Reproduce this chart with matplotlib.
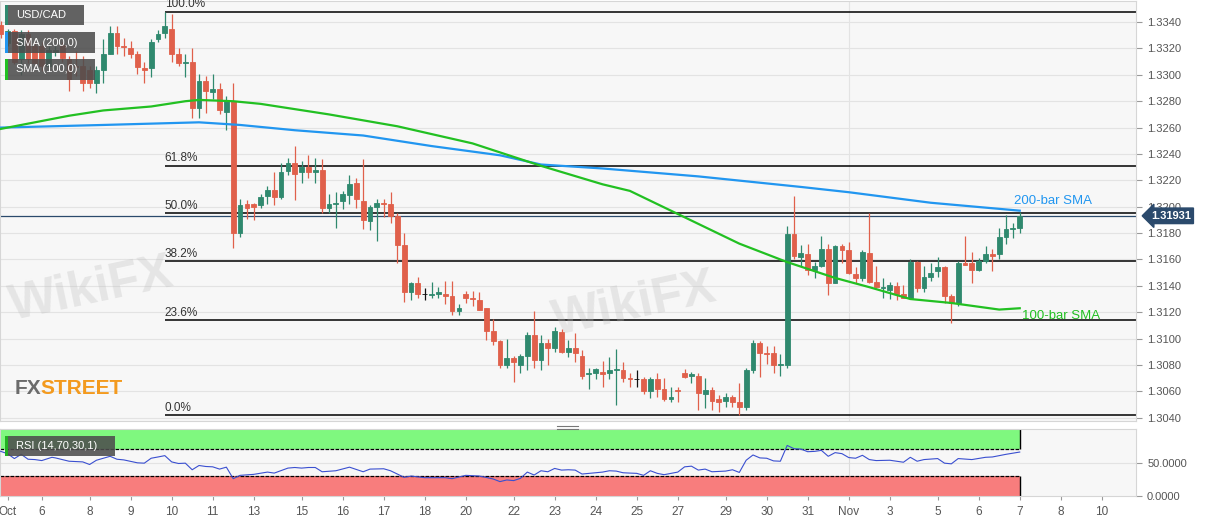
import matplotlib
matplotlib.use('Agg')
import matplotlib.pyplot as plt
from matplotlib.patches import Rectangle
from matplotlib.lines import Line2D
import numpy as np

plt.rcParams['font.family'] = ['Liberation Sans', 'DejaVu Sans']

# USD/CAD 4H candles, Oct 4 - Nov 7
opens = [1.3338, 1.3324, 1.3333, 1.3312, 1.3331, 1.3322, 1.3322, 1.3307, 1.3317, 1.3323,
         1.3312, 1.3307, 1.3307, 1.3304, 1.3294, 1.3304, 1.3316, 1.3332, 1.3322, 1.3320,
         1.3316, 1.3305, 1.3305, 1.3327, 1.3332, 1.3335, 1.3316, 1.3309, 1.3310, 1.3275,
         1.3295, 1.3287, 1.3289, 1.3272, 1.3280, 1.3180, 1.3202, 1.3202, 1.3201, 1.3208,
         1.3213, 1.3207, 1.3227, 1.3233, 1.3226, 1.3230, 1.3226, 1.3228, 1.3199, 1.3202,
         1.3204, 1.3209, 1.3218, 1.3204, 1.3189, 1.3200, 1.3203, 1.3202, 1.3193, 1.3171,
         1.3135, 1.3142, 1.3134, 1.3133, 1.3134, 1.3134, 1.3132, 1.3121, 1.3134, 1.3131,
         1.3129, 1.3123, 1.3106, 1.3098, 1.3080, 1.3085, 1.3080, 1.3087, 1.3103, 1.3084,
         1.3097, 1.3093, 1.3105, 1.3090, 1.3093, 1.3087, 1.3073, 1.3074, 1.3075, 1.3074,
         1.3076, 1.3076, 1.3070, 1.3069, 1.3069, 1.3060, 1.3069, 1.3062, 1.3054, 1.3061,
         1.3074, 1.3072, 1.3072, 1.3058, 1.3061, 1.3054, 1.3053, 1.3056, 1.3052, 1.3048,
         1.3076, 1.3097, 1.3089, 1.3089, 1.3080, 1.3080, 1.3179, 1.3162, 1.3164, 1.3152,
         1.3155, 1.3168, 1.3142, 1.3170, 1.3167, 1.3149, 1.3146, 1.3165, 1.3143, 1.3138,
         1.3137, 1.3140, 1.3134, 1.3131, 1.3158, 1.3138, 1.3147, 1.3151, 1.3154, 1.3132,
         1.3127, 1.3157, 1.3157, 1.3152, 1.3159, 1.3164, 1.3164, 1.3177, 1.3183, 1.3184]
highs = [1.3341, 1.3335, 1.3335, 1.3334, 1.3334, 1.3325, 1.3325, 1.3322, 1.3322, 1.3325,
         1.3314, 1.3318, 1.3314, 1.3307, 1.3307, 1.3327, 1.3337, 1.3337, 1.3328, 1.3326,
         1.3318, 1.3310, 1.3327, 1.3334, 1.3348, 1.3346, 1.3320, 1.3316, 1.3320, 1.3301,
         1.3299, 1.3301, 1.3294, 1.3284, 1.3294, 1.3206, 1.3205, 1.3203, 1.3210, 1.3216,
         1.3226, 1.3233, 1.3237, 1.3246, 1.3235, 1.3239, 1.3237, 1.3236, 1.3210, 1.3211,
         1.3212, 1.3224, 1.3222, 1.3236, 1.3201, 1.3206, 1.3206, 1.3211, 1.3195, 1.3180,
         1.3143, 1.3147, 1.3138, 1.3143, 1.3139, 1.3144, 1.3144, 1.3126, 1.3136, 1.3136,
         1.3135, 1.3123, 1.3115, 1.3099, 1.3100, 1.3087, 1.3088, 1.3105, 1.3121, 1.3103,
         1.3100, 1.3109, 1.3107, 1.3099, 1.3104, 1.3091, 1.3078, 1.3078, 1.3083, 1.3086,
         1.3092, 1.3082, 1.3074, 1.3076, 1.3071, 1.3071, 1.3074, 1.3070, 1.3063, 1.3063,
         1.3077, 1.3075, 1.3074, 1.3070, 1.3063, 1.3057, 1.3059, 1.3057, 1.3066, 1.3078,
         1.3099, 1.3098, 1.3094, 1.3094, 1.3088, 1.3185, 1.3208, 1.3171, 1.3172, 1.3158,
         1.3178, 1.3172, 1.3171, 1.3172, 1.3173, 1.3154, 1.3167, 1.3195, 1.3155, 1.3146,
         1.3143, 1.3143, 1.3141, 1.3160, 1.3159, 1.3155, 1.3157, 1.3162, 1.3155, 1.3134,
         1.3159, 1.3178, 1.3166, 1.3161, 1.3170, 1.3168, 1.3184, 1.3194, 1.3188, 1.3196]
lows = [1.3328, 1.3322, 1.3308, 1.3300, 1.3309, 1.3307, 1.3303, 1.3304, 1.3314, 1.3310,
        1.3288, 1.3299, 1.3288, 1.3290, 1.3286, 1.3294, 1.3316, 1.3316, 1.3314, 1.3313,
        1.3301, 1.3294, 1.3298, 1.3325, 1.3328, 1.3310, 1.3307, 1.3298, 1.3267, 1.3267,
        1.3271, 1.3282, 1.3270, 1.3258, 1.3169, 1.3177, 1.3191, 1.3190, 1.3199, 1.3202,
        1.3201, 1.3206, 1.3224, 1.3205, 1.3218, 1.3222, 1.3218, 1.3195, 1.3195, 1.3184,
        1.3198, 1.3202, 1.3199, 1.3183, 1.3182, 1.3174, 1.3192, 1.3188, 1.3157, 1.3128,
        1.3129, 1.3131, 1.3129, 1.3131, 1.3131, 1.3126, 1.3118, 1.3118, 1.3127, 1.3125,
        1.3122, 1.3099, 1.3095, 1.3078, 1.3078, 1.3067, 1.3074, 1.3076, 1.3078, 1.3076,
        1.3080, 1.3090, 1.3089, 1.3086, 1.3082, 1.3069, 1.3062, 1.3069, 1.3063, 1.3069,
        1.3050, 1.3067, 1.3063, 1.3063, 1.3058, 1.3055, 1.3056, 1.3053, 1.3052, 1.3052,
        1.3070, 1.3066, 1.3046, 1.3047, 1.3046, 1.3044, 1.3048, 1.3048, 1.3042, 1.3046,
        1.3074, 1.3071, 1.3081, 1.3074, 1.3072, 1.3078, 1.3160, 1.3155, 1.3148, 1.3146,
        1.3154, 1.3133, 1.3142, 1.3157, 1.3149, 1.3142, 1.3144, 1.3142, 1.3138, 1.3131,
        1.3130, 1.3129, 1.3131, 1.3130, 1.3135, 1.3135, 1.3144, 1.3147, 1.3127, 1.3112,
        1.3125, 1.3156, 1.3142, 1.3151, 1.3157, 1.3151, 1.3160, 1.3172, 1.3176, 1.3180]
closes = [1.3331, 1.3333, 1.3310, 1.3331, 1.3312, 1.3309, 1.3307, 1.3319, 1.3319, 1.3313,
          1.3297, 1.3306, 1.3294, 1.3294, 1.3304, 1.3316, 1.3332, 1.3322, 1.3321, 1.3316,
          1.3306, 1.3304, 1.3325, 1.3331, 1.3337, 1.3316, 1.3309, 1.3310, 1.3275, 1.3295,
          1.3288, 1.3289, 1.3273, 1.3280, 1.3180, 1.3201, 1.3199, 1.3200, 1.3207, 1.3213,
          1.3207, 1.3226, 1.3233, 1.3225, 1.3230, 1.3226, 1.3228, 1.3199, 1.3202, 1.3203,
          1.3210, 1.3217, 1.3206, 1.3190, 1.3200, 1.3203, 1.3202, 1.3193, 1.3171, 1.3135,
          1.3142, 1.3134, 1.3134, 1.3134, 1.3135, 1.3132, 1.3121, 1.3123, 1.3131, 1.3130,
          1.3122, 1.3106, 1.3098, 1.3080, 1.3085, 1.3082, 1.3087, 1.3103, 1.3084, 1.3097,
          1.3093, 1.3106, 1.3090, 1.3093, 1.3089, 1.3072, 1.3074, 1.3077, 1.3073, 1.3076,
          1.3077, 1.3070, 1.3069, 1.3069, 1.3060, 1.3069, 1.3062, 1.3054, 1.3056, 1.3060,
          1.3071, 1.3073, 1.3059, 1.3061, 1.3053, 1.3052, 1.3056, 1.3052, 1.3048, 1.3076,
          1.3097, 1.3089, 1.3088, 1.3080, 1.3081, 1.3179, 1.3163, 1.3165, 1.3152, 1.3155,
          1.3168, 1.3142, 1.3170, 1.3167, 1.3150, 1.3146, 1.3166, 1.3143, 1.3139, 1.3139,
          1.3141, 1.3134, 1.3131, 1.3158, 1.3138, 1.3147, 1.3150, 1.3154, 1.3132, 1.3127,
          1.3157, 1.3156, 1.3152, 1.3159, 1.3164, 1.3163, 1.3177, 1.3183, 1.3184, 1.31931]

# moving averages, read at a few bars
sma200_idx = [0, 15, 29, 35, 43, 53, 63, 73, 79, 88, 102, 117, 124, 136, 149]
sma200_val = [1.3260, 1.3262, 1.3264, 1.3262, 1.3258, 1.3254, 1.3246, 1.3239, 1.3232,
              1.3229, 1.3223, 1.3215, 1.3211, 1.3203, 1.3197]
sma100_idx = [0, 5, 10, 15, 22, 27, 29, 34, 38, 48, 58, 69, 79, 88, 92, 100, 108, 115,
              122, 127, 133, 139, 146, 149]
sma100_val = [1.3259, 1.3264, 1.3269, 1.3273, 1.3276, 1.3280, 1.3281, 1.3280, 1.3278,
              1.3270, 1.3261, 1.3248, 1.3231, 1.3217, 1.3212, 1.3192, 1.3172, 1.3158,
              1.3146, 1.3139, 1.3130, 1.3127, 1.3122, 1.3123]

# RSI(14)
rsi_idx = [0, 1, 2, 3, 4, 5, 6, 7.5, 8, 10, 11, 12, 13, 14, 16, 17, 18, 20, 21, 22, 23, 24,
           25, 26, 27, 28, 29, 30, 31, 32, 33, 34, 35, 37, 39, 40, 42, 43, 44, 45, 46, 47,
           49, 51, 53, 54, 56, 57, 59, 60, 62, 65, 66, 68, 70, 72, 73, 74, 75, 76, 77, 78,
           79, 80, 81, 82, 83, 84, 85, 87, 88, 89, 90, 91, 92, 93, 94, 95, 96, 97, 99, 100,
           101, 102, 103, 104, 106, 107, 108, 109, 110, 111, 112, 113, 114, 115, 116, 117,
           118, 119, 120, 121, 122, 123, 124, 125, 126, 127, 128, 130, 132, 133, 134, 135,
           137, 138, 139, 140, 142, 144, 145, 147, 149]
rsi_val = [67.0, 63.6, 56.2, 62.6, 55.2, 54.7, 53.2, 58.1, 57.2, 52.2, 51.7, 51.2, 47.3,
           53.7, 59.6, 55.2, 54.2, 49.8, 49.3, 56.7, 58.6, 60.6, 51.2, 48.8, 49.3, 39.4,
           45.8, 44.3, 43.8, 40.4, 43.3, 26.0, 31.0, 32.5, 35.9, 34.4, 41.9, 42.8, 41.9,
           42.8, 42.8, 36.4, 37.9, 43.3, 36.4, 40.4, 40.9, 37.9, 28.0, 30.0, 27.5, 27.5,
           26.0, 31.0, 30.0, 25.6, 21.6, 24.1, 23.1, 26.5, 35.9, 31.5, 37.9, 36.4, 41.4,
           38.9, 39.4, 38.9, 33.0, 34.9, 35.9, 37.9, 37.4, 34.9, 34.4, 34.0, 31.0, 37.9,
           34.0, 32.0, 35.9, 43.8, 44.8, 38.9, 40.4, 36.4, 37.4, 39.4, 35.4, 53.7, 61.6,
           57.2, 56.7, 52.7, 52.2, 75.9, 71.0, 70.5, 66.5, 67.0, 68.5, 59.6, 65.1, 63.6,
           57.7, 56.7, 61.1, 54.7, 53.2, 53.7, 50.7, 58.1, 52.2, 54.7, 56.2, 49.3, 48.3,
           56.2, 54.7, 58.1, 58.6, 62.6, 66.0]

tick_idx = [1, 6, 13, 19, 25, 31, 37, 44, 50, 56, 62, 68, 75, 81, 87, 93, 99, 106, 112,
            118, 124, 130, 137, 143, 149, 155, 161]
tick_lab = ['Oct', '6', '8', '9', '10', '11', '13', '15', '16', '17', '18', '20', '22',
            '23', '24', '25', '27', '29', '30', '31', 'Nov', '3', '5', '6', '7', '8', '10']

swing_low, swing_high, swing_idx = 1.3042, 1.3348, 24
fib_ratios = [1.0, 0.618, 0.5, 0.382, 0.236, 0.0]
last_price = 1.31931

W, H = 1207, 526
fig = plt.figure(figsize=(W / 100, H / 100), dpi=100)
fig.patch.set_facecolor('white')
ax = fig.add_axes([0, 1 - 421 / H, 1136 / W, 420 / H])
ax2 = fig.add_axes([0, 1 - 496 / H, 1136 / W, 66.6 / H], sharex=ax)

bg = '#f7f7f7'
grid_c = '#e3e3e3'
up_c, dn_c = '#2f896e', '#e0604b'
blue_c, green_c = '#2196f0', '#22c022'

for a in (ax, ax2):
    a.set_facecolor(bg)
    for s in a.spines.values():
        s.set_color('#d6d6d6')
        s.set_linewidth(0.8)
    a.yaxis.tick_right()
    a.tick_params(axis='y', length=4, color='#999999', labelcolor='#555555', labelsize=8, pad=4)

n = len(closes)
idx = np.arange(n)
o = np.array(opens); c = np.array(closes); h = np.array(highs); l = np.array(lows)
cols = np.where(c > o, up_c, np.where(c < o, dn_c, '#111111'))

ax.set_yticks(np.arange(1.3040, 1.33401, 0.002))
ax.yaxis.set_major_formatter(matplotlib.ticker.FormatStrFormatter('%.4f'))
ax.grid(axis='y', color=grid_c, lw=0.8)
ax.axvline(124, color=grid_c, lw=0.8)
ax.set_axisbelow(True)

# watermark texts
wm = dict(color='#bdbdbd', alpha=0.3, fontsize=36, fontweight='bold', rotation=12,
          ha='center', va='center')
fig.text(92 / W, 1 - 290 / H, 'WikiFX', **wm)
fig.text(635 / W, 1 - 305 / H, 'WikiFX', **wm)

ax.vlines(idx, l, h, colors=cols, lw=0.9, zorder=3)
ax.bar(idx, c - o, bottom=o, width=0.7, color=cols, edgecolor=cols, lw=0.6, zorder=4)

ax.plot(sma200_idx, sma200_val, color=blue_c, lw=1.6, zorder=5)
ax.plot(sma100_idx, sma100_val, color=green_c, lw=1.6, zorder=5)

for r in fib_ratios:
    lvl = swing_low + r * (swing_high - swing_low)
    ax.hlines(lvl, swing_idx, 170, color='black', lw=1.1, zorder=2)
    ax.text(swing_idx, lvl + 0.0001, '%.1f%%' % (r * 100), fontsize=8.5, color='#333333',
            va='bottom', ha='left')

ax.axhline(last_price, color='#2b4a6c', lw=0.9, zorder=2)
ax.annotate('%.5f' % last_price, xy=(1.0, last_price), xycoords=('axes fraction', 'data'),
            xytext=(1.013, last_price), textcoords=('axes fraction', 'data'),
            fontsize=8, fontweight='bold', color='white', va='center', ha='left',
            bbox=dict(boxstyle='larrow,pad=0.25', fc='#2b4a6c', ec='#2b4a6c'),
            annotation_clip=False)

ax.text(148.1, 1.32046, '200-bar SMA', color=blue_c, fontsize=9.5, va='center', ha='left')
ax.text(149.3, 1.3117, '100-bar SMA', color=green_c, fontsize=9.5, va='center', ha='left')

ax.set_xlim(-0.1, 166)
ax.set_ylim(1.30375, 1.3356)
ax.tick_params(axis='x', bottom=False, labelbottom=False)

# RSI panel
ax2.add_patch(Rectangle((-0.1, 70), 149.1, 30, fc='#7ff87f', ec='none', zorder=1))
ax2.add_patch(Rectangle((-0.1, 0), 149.1, 30, fc='#f87d7d', ec='none', zorder=1))
ax2.hlines([70, 30], -0.1, 149, colors='black', lw=0.9, linestyles=(0, (3, 1)), zorder=2)
ax2.vlines(149, 70, 100, colors='black', lw=1.0, zorder=2)
ax2.vlines(149, 0, 30, colors='black', lw=1.0, zorder=2)
ax2.axhline(50, color=grid_c, lw=0.8, zorder=0)
ax2.axvline(124, color='#dcdcdc', lw=0.8, zorder=0)
ax2.plot(rsi_idx, rsi_val, color='#3a4fd0', lw=0.8, zorder=3)
ax2.set_ylim(0, 100)
ax2.set_yticks([0, 50])
ax2.yaxis.set_major_formatter(matplotlib.ticker.FormatStrFormatter('%.4f'))
ax2.set_xticks(tick_idx)
ax2.set_xticklabels(tick_lab)
ax2.tick_params(axis='x', length=3, color='#999999', labelcolor='#555555', labelsize=8.5, pad=4)


def tag(x, y, w, hh, text, stripe):
    fig.add_artist(Rectangle((x / W, 1 - (y + hh) / H), w / W, hh / H, transform=fig.transFigure,
                             fc='#4d4d4d', alpha=0.88, ec='none'))
    fig.add_artist(Rectangle((x / W, 1 - (y + hh) / H), 2.5 / W, hh / H, transform=fig.transFigure,
                             fc=stripe, ec='none'))
    fig.text((x + 11) / W, 1 - (y + hh / 2) / H, text, color='white', fontsize=8, va='center')


tag(5, 5, 79, 20, 'USD/CAD', up_c)
tag(5, 32, 90, 21, 'SMA (200,0)', blue_c)
tag(5, 59, 90, 21, 'SMA (100,0)', green_c)
tag(5, 436, 110, 20, 'RSI (14,70,30,1)', '#22b022')

# FXStreet logo
fig.text(15 / W, 1 - 389 / H, 'FX', color='#6b6b6b', fontsize=15, fontweight='bold', va='center')
fig.text(40 / W, 1 - 389 / H, 'STREET', color='#f39a1e', fontsize=15, fontweight='bold', va='center')

# panel resize handle
for yy in (425.5, 428.5):
    fig.add_artist(Line2D([557 / W, 578 / W], [1 - yy / H, 1 - yy / H], color='#777777', lw=0.8))

fig.savefig('out.png', dpi=100, facecolor='white')
